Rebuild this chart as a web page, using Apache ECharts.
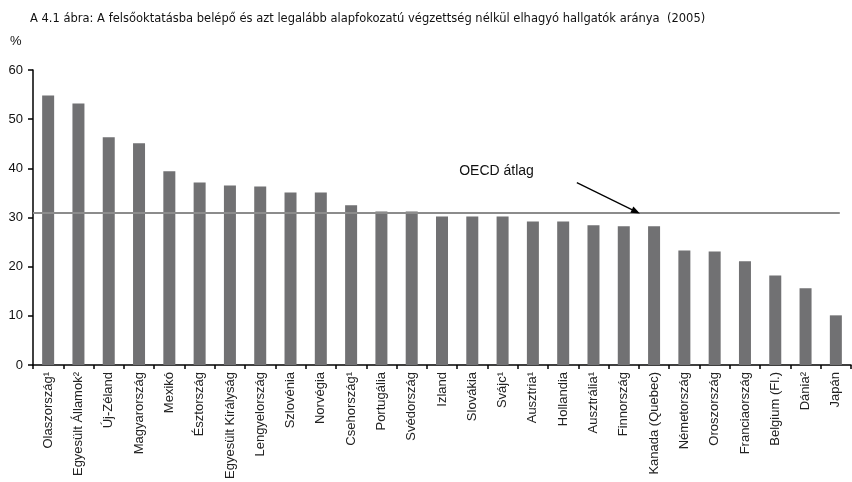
<!DOCTYPE html>
<html>
<head>
<meta charset="utf-8">
<script src="https://cdn.jsdelivr.net/npm/echarts@6/dist/echarts.min.js"></script>
<style>html,body{margin:0;padding:0;background:#fff}#c{width:852px;height:482px}</style>
</head>
<body>
<div id="c"></div>
<script>
const categories = ['Olaszország¹','Egyesült Államok²','Új-Zéland','Magyarország','Mexikó','Észtország','Egyesült Királyság','Lengyelország','Szlovénia','Norvégia','Csehország¹','Portugália','Svédország','Izland','Slovákia','Svájc¹','Ausztria¹','Hollandia','Ausztrália¹','Finnország','Kanada (Quebec)','Németország','Oroszország','Franciaország','Belgium (Fl.)','Dánia²','Japán'];
const values = [54.8,53.2,46.3,45.1,39.4,37.1,36.5,36.3,35.1,35.1,32.5,31.2,31.2,30.2,30.2,30.2,29.2,29.2,28.4,28.2,28.2,23.3,23.1,21.1,18.2,15.6,10.1];
const oecdAverage = 31;
const yTicks = [0,10,20,30,40,50,60];
const titleText = 'A 4.1 ábra: A felsőoktatásba belépő és azt legalább alapfokozatú végzettség nélkül elhagyó hallgatók aránya  (2005)';
const annotationText = 'OECD átlag';

const chart = echarts.init(document.getElementById('c'), null, {renderer:'canvas'});
chart.setOption({
  animation:false,
  backgroundColor:'#fff',
  title:[
    {text:titleText,left:25,top:8,textStyle:{fontFamily:'DejaVu Sans',fontSize:11.5,fontWeight:'normal',color:'#111'}},
    {text:'%',left:5,top:30,textStyle:{fontFamily:'Liberation Sans',fontSize:13,fontWeight:'normal',color:'#111'}}
  ],
  grid:{left:33,right:1,top:70,bottom:117,containLabel:false},
  xAxis:[
    {type:'category',data:categories,boundaryGap:true,
     axisLine:{lineStyle:{color:'#000',width:1.5}},
     axisTick:{show:true,inside:false,length:4,lineStyle:{color:'#000',width:1.5}},
     axisLabel:{rotate:90,interval:0,margin:7,fontFamily:'Liberation Sans',fontSize:13,color:'#222'}},
    {type:'value',min:0,max:27,show:false}
  ],
  yAxis:{type:'value',min:yTicks[0],max:yTicks[yTicks.length-1],interval:10,
     axisLine:{show:true,lineStyle:{color:'#000',width:1.5}},
     axisTick:{show:true,inside:false,length:5,lineStyle:{color:'#000',width:1.5}},
     splitLine:{show:false},
     axisLabel:{margin:10,fontFamily:'Liberation Sans',fontSize:13,color:'#111'}},
  series:[
    {type:'bar',data:values,barWidth:12,itemStyle:{color:'#717173'},z:2},
    {type:'line',xAxisIndex:1,data:[],silent:true,z:3,
     markLine:{silent:true,animation:false,
       data:[
         [{coord:[0,oecdAverage],symbol:'none',lineStyle:{color:'#8c8c8c',width:2,type:'solid'}},{coord:[26.63,oecdAverage],symbol:'none'}],
         [{coord:[17.95,37.1],symbol:'none',lineStyle:{color:'#000',width:1.2,type:'solid'}},{coord:[19.9,31.2],symbol:'triangle',symbolSize:[7,9]}]
       ],
       label:{show:false}},
     markPoint:{silent:true,symbol:'circle',symbolSize:0,
       data:[{coord:[15.3,39.4],label:{show:true,position:'inside',formatter:annotationText,fontFamily:'Liberation Sans',fontSize:14,color:'#111'}}]}}
  ]
});
</script>
</body>
</html>
